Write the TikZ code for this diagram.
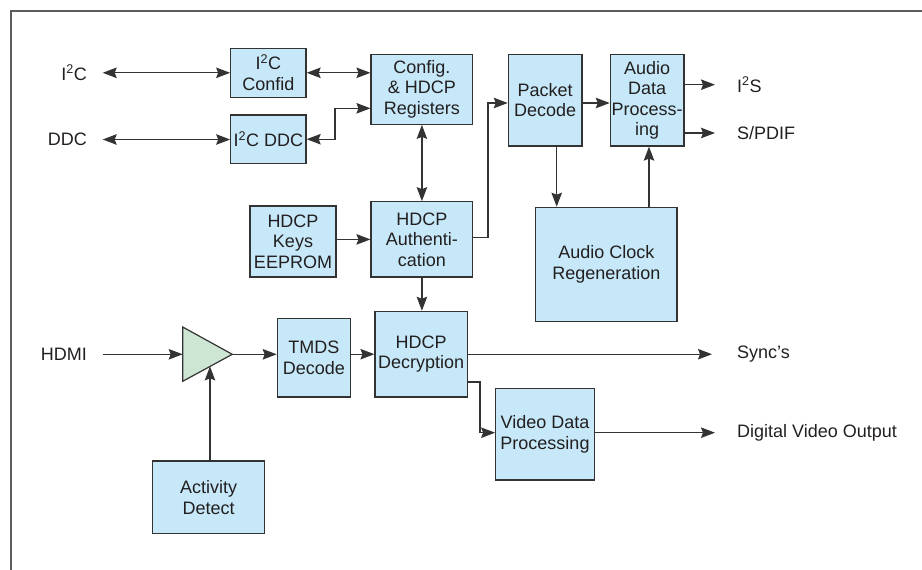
\documentclass[tikz,border=0pt]{standalone}
\usepackage{fontspec}
\setmainfont{Liberation Sans}
\usetikzlibrary{arrows.meta,calc}
\definecolor{boxblue}{HTML}{C6E8F8}
\definecolor{ampgreen}{HTML}{CDE6D4}
\definecolor{edge}{HTML}{333333}
\definecolor{txt}{HTML}{231F20}
\begin{document}
\begin{tikzpicture}[x=1pt,y=-1pt,
  every node/.style={font=\fontsize{18}{20.5}\selectfont, text=txt},
  blk/.style={draw=edge, line width=1.2pt, fill=boxblue, align=center, inner sep=1pt},
  lbl/.style={inner sep=0pt},
  conn/.style={draw=edge, line width=1.2pt, -{Stealth[length=14pt,width=10.5pt,inset=2pt]}},
  dconn/.style={draw=edge, line width=1.2pt, {Stealth[length=14pt,width=10.5pt,inset=2pt]}-{Stealth[length=14pt,width=10.5pt,inset=2pt]}}]
\useasboundingbox (0,0) rectangle (922,570);
% frame
\draw[draw=edge!80, line width=1.2pt] (11,570) -- (11,11) -- (922,11);

% blocks
\node[blk, minimum width=75.3pt, minimum height=49pt] (conf) at (268.4,72.8) {I\textsuperscript{2}C\\Confid};
\node[blk, minimum width=75.3pt, minimum height=48.3pt] (ddc) at (268.4,139.2) {I\textsuperscript{2}C DDC};
\node[blk, minimum width=101.7pt, minimum height=70pt] (reg) at (421.9,89.3) {Config.\\\& HDCP\\Registers};
\node[blk, minimum width=86pt, minimum height=71pt] (keys) at (293,241.5) {HDCP\\Keys\\EEPROM};
\node[blk, minimum width=101.7pt, minimum height=75.3pt] (auth) at (421.9,239.4) {HDCP\\Authenti-\\cation};
\node[blk, minimum width=73.7pt, minimum height=91.7pt] (pkt) at (545.2,100.2) {Packet\\Decode};
\node[blk, minimum width=73.7pt, minimum height=91.7pt] (adp) at (647.2,100.2) {Audio\\Data\\Process-\\ing};
\node[blk, minimum width=141.3pt, minimum height=114.4pt] (acr) at (606.4,264.5) {Audio Clock\\Regeneration};
\node[blk, minimum width=73pt, minimum height=78.7pt] (tmds) at (313.8,357.7) {TMDS\\Decode};
\node[blk, minimum width=92.3pt, minimum height=85.7pt] (dec) at (421.2,354.2) {HDCP\\Decryption};
\node[blk, minimum width=98.6pt, minimum height=91.3pt] (vdp) at (545,434.4) {Video Data\\Processing};
\node[blk, minimum width=112pt, minimum height=72.7pt] (act) at (208.7,497.4) {Activity\\Detect};

% amplifier
\coordinate (ampa) at (182.7,327);
\coordinate (ampb) at (182.7,381.3);
\coordinate (ampout) at (232.3,354.3);
\coordinate (ampin) at (182.7,354.3);
\coordinate (amptap) at (210,366.4);
\draw[draw=edge, line width=1.2pt, fill=ampgreen, line join=miter] (ampa) -- (ampout) -- (ampb) -- cycle;

% labels
\node[lbl, anchor=east] (li2c) at (87,72.8) {I\textsuperscript{2}C};
\node[lbl, anchor=east] (lddc) at (87,139.5) {DDC};
\node[lbl, anchor=east] (lhdmi) at (87,354.3) {HDMI};
\node[lbl, anchor=west] (li2s) at (737,84.7) {I\textsuperscript{2}S};
\node[lbl, anchor=west] (lspdif) at (737,133) {S/PDIF};
\node[lbl, anchor=west] (lsync) at (737,354.2) {Sync's};
\node[lbl, anchor=west] (ldvo) at (737,432.7) {Digital Video Output};

% connectors
\draw[dconn, shorten <=15.7pt] (li2c.east) -- (li2c.east -| conf.west);
\draw[dconn, shorten <=15.7pt] (lddc.east) -- (lddc.east -| ddc.west);
\draw[dconn] (conf.east) -- (conf.east -| reg.west);
\draw[dconn] (ddc.east) -- ++(28.3,0) |- ([yshift=-19pt]reg.west);
\draw[dconn] (reg.south) -- (auth.north);
\draw[conn] (keys.east |- auth.west) -- (auth.west);
\draw[conn] (auth.south) -- (auth.south |- dec.north);
\draw[conn] ([yshift=1.7pt]auth.east) -- ++(14.6,0) |- ([yshift=-2.8pt]pkt.west);
\draw[conn] ([yshift=-2.8pt]pkt.east) -- ([yshift=-2.8pt]pkt.east -| adp.west);
\draw[conn] ([xshift=11.5pt]pkt.south) -- ([xshift=11.5pt]pkt.south |- acr.north);
\draw[conn] ([xshift=1.8pt]adp.south |- acr.north) -- ([xshift=1.8pt]adp.south);
\draw[conn, shorten >=22pt] (adp.east |- li2s.west) -- (li2s.west);
\draw[conn, shorten >=22pt] (adp.east |- lspdif.west) -- (lspdif.west);
\draw[conn, shorten <=16.3pt] (lhdmi.east) -- (ampin);
\draw[conn] (ampout) -- (ampout -| tmds.west);
\draw[conn] (tmds.east |- dec.west) -- (dec.west);
\draw[conn, shorten >=25pt] (dec.east) -- (lsync.west);
\draw[conn] ([yshift=-27.8pt]dec.east) -- ++(12,0) |- ([yshift=1.7pt]vdp.west);
\draw[conn, shorten >=22pt] ([yshift=1.7pt]vdp.east) -- (ldvo.west);
\draw[conn] (amptap |- act.north) -- (amptap);
\end{tikzpicture}
\end{document}
